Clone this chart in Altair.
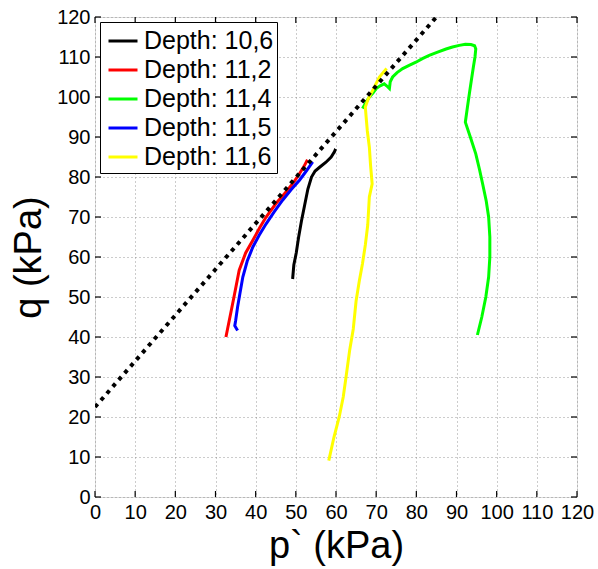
import altair as alt
import pandas as pd

series_names = ["Depth: 10,6", "Depth: 11,2", "Depth: 11,4", "Depth: 11,5", "Depth: 11,6"]
series_colors = ["#000000", "#ff0000", "#00ff00", "#0000ff", "#ffff00"]

black_x = [49.2, 49.5, 50.1, 50.7, 51.4, 52.2, 53.0, 53.9, 54.8, 56.0, 57.5, 58.8, 59.6, 59.9, 59.5]
black_y = [54.5, 58.0, 61.0, 65.0, 69.0, 73.0, 77.0, 80.0, 81.5, 82.5, 83.7, 85.0, 86.3, 87.0, 86.0]

red_x = [32.6, 33.6, 34.6, 35.9, 37.5, 39.3, 41.0, 42.6, 45.0, 47.6, 49.5, 50.9, 52.0, 52.9]
red_y = [40.0, 45.0, 50.0, 56.7, 61.0, 64.2, 67.3, 70.0, 73.3, 76.3, 78.7, 80.8, 82.6, 84.3]

green_x = [95.2, 96.3, 97.3, 98.0, 98.3, 98.3, 98.0, 97.4, 96.5, 95.7, 94.8, 93.5, 92.2, 92.7,
           93.2, 93.7, 94.2, 94.6, 94.8, 94.5, 93.6, 92.2, 90.7, 89.0, 87.4, 85.3, 83.2, 81.5,
           79.9, 78.2, 76.6, 75.2, 74.1, 73.5, 73.3, 72.6, 72.0, 71.0, 70.0, 69.2, 68.3, 67.4, 66.6]
green_y = [40.5, 45.0, 50.0, 55.0, 60.0, 65.0, 70.0, 74.0, 78.3, 82.0, 85.8, 89.8, 93.7, 97.3,
           100.8, 104.2, 107.5, 110.0, 112.0, 112.8, 113.1, 113.2, 112.9, 112.5, 112.0, 111.2, 110.4, 109.6,
           108.7, 107.9, 107.1, 106.1, 105.0, 103.8, 102.1, 102.8, 103.3, 102.8, 102.1, 101.0, 100.0, 98.5, 97.1]

blue_x = [35.5, 34.8, 35.0, 35.5, 36.1, 36.8, 37.9, 39.3, 40.9, 42.6, 44.6, 46.7, 48.8, 50.9, 52.6, 54.2]
blue_y = [41.6, 42.8, 44.0, 47.5, 51.0, 55.0, 59.0, 62.5, 65.5, 68.3, 71.3, 74.2, 76.8, 79.2, 81.5, 83.8]

yellow_x = [58.2, 59.5, 60.8, 61.8, 62.5, 63.4, 64.3, 65.0, 65.8, 66.6, 67.3, 67.9, 68.3, 69.0,
            68.6, 68.3, 67.8, 67.5, 67.3, 68.0, 69.1, 70.8, 72.6]
yellow_y = [9.1, 15.0, 20.0, 25.0, 30.0, 36.7, 42.0, 49.0, 54.0, 58.4, 63.0, 68.0, 75.0, 78.3,
            83.0, 87.5, 91.5, 95.0, 97.5, 99.5, 101.6, 105.0, 107.1]

fit_x = [0.0, 85.0]
fit_y = [22.5, 120.0]

x_ticks = list(range(0, 121, 10))
y_ticks = list(range(0, 121, 10))

W, H = 482, 480
TICK = 6

all_x = [black_x, red_x, green_x, blue_x, yellow_x]
all_y = [black_y, red_y, green_y, blue_y, yellow_y]
rows = []
for name, xs, ys in zip(series_names, all_x, all_y):
    for i, (xv, yv) in enumerate(zip(xs, ys)):
        rows.append({"series": name, "p": xv, "q": yv, "i": i})
df = pd.DataFrame(rows)
fit_df = pd.DataFrame({"p": fit_x, "q": fit_y, "i": [0, 1]})
xt_df = pd.DataFrame({"p": x_ticks})
yt_df = pd.DataFrame({"q": y_ticks})

FONT = "Liberation Sans"
xscale = alt.Scale(domain=[0, 120], nice=False, zero=False)
yscale = alt.Scale(domain=[0, 120], nice=False, zero=False)

common = dict(grid=True, gridDash=[1, 3], gridColor="#7f7f7f", gridOpacity=0.8, domain=False,
              ticks=False,
              labelFontSize=20, labelFont=FONT, labelColor="black", labelOverlap=False,
              labelFlush=False, labelBound=False,
              titleFont=FONT, titleFontSize=38, titleFontWeight="normal", titleColor="black")

x_axis = alt.Axis(values=x_ticks, title="p` (kPa)", labelPadding=5, titlePadding=5, **common)
y_axis = alt.Axis(values=y_ticks, title="q (kPa)", labelPadding=5, titlePadding=8, **common)

X = lambda: alt.X("p:Q", scale=xscale, axis=x_axis)
Y = lambda: alt.Y("q:Q", scale=yscale, axis=y_axis)

lines = alt.Chart(df).mark_line(strokeWidth=3).encode(
    x=X(), y=Y(),
    color=alt.Color("series:N", scale=alt.Scale(domain=series_names, range=series_colors),
                    legend=alt.Legend(title=None, orient="top-left", offset=5,
                                      symbolType="stroke", symbolStrokeWidth=3, symbolSize=841,
                                      symbolOffset=4,
                                      labelFont=FONT, labelFontSize=25, labelColor="black",
                                      strokeColor="black", fillColor="white", padding=3,
                                      rowPadding=0, labelOffset=5)),
    order="i:Q",
)

fit = alt.Chart(fit_df).mark_line(color="black", strokeWidth=4, strokeDash=[4, 5], clip=True).encode(
    x=X(), y=Y(), order="i:Q",
)

tick_style = dict(color="black", strokeWidth=1.2)
xt_bottom = alt.Chart(xt_df).mark_rule(**tick_style).encode(
    x=X(), y=alt.value(H), y2=alt.value(H - TICK))
xt_top = alt.Chart(xt_df).mark_rule(**tick_style).encode(
    x=X(), y=alt.value(0), y2=alt.value(TICK))
yt_left = alt.Chart(yt_df).mark_rule(**tick_style).encode(
    y=Y(), x=alt.value(0), x2=alt.value(TICK))
yt_right = alt.Chart(yt_df).mark_rule(**tick_style).encode(
    y=Y(), x=alt.value(W), x2=alt.value(W - TICK))

chart = alt.layer(lines, fit, xt_bottom, xt_top, yt_left, yt_right).properties(
    width=W, height=H,
    autosize=alt.AutoSizeParams(type="none"),
    padding={"left": 95, "top": 17, "right": 21, "bottom": 72},
).configure_view(stroke="black", strokeWidth=1.5).configure(background="white")

chart.save("out.html", embed_options={"renderer": "svg", "actions": False})
